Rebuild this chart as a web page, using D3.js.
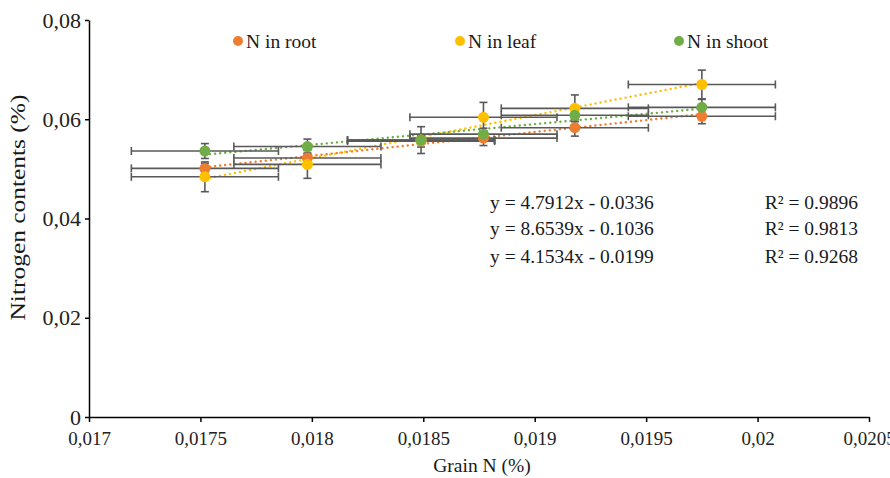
<!DOCTYPE html>
<html>
  <head>
    <meta charset="utf-8">
    <title>Grain N vs Nitrogen contents</title>
    <script src="https://d3js.org/d3.v7.min.js"></script>
    <style>
      body { margin: 0; background: #fff; }
      text { font-family: "Liberation Serif", "Times New Roman", serif; fill: #1a1a1a; }
    </style>
  </head>
  <body>
    <script>
        // data
        var grainN   = [0.01752, 0.01798, 0.01849, 0.01877, 0.01918, 0.01975];
        var grainErr = [0.00033, 0.00033, 0.00033, 0.00033, 0.00033, 0.00033];

        var rootN    = [0.0501, 0.0522, 0.0556, 0.0562, 0.0583, 0.0606];
        var rootErr  = [0.0010, 0.0010, 0.0012, 0.0015, 0.0017, 0.0015];
        var leafN    = [0.0484, 0.0509, 0.0558, 0.0604, 0.0622, 0.0670];
        var leafErr  = [0.0030, 0.0028, 0.0027, 0.0030, 0.0027, 0.0029];
        var shootN   = [0.0536, 0.0545, 0.0558, 0.0570, 0.0608, 0.0624];
        var shootErr = [0.0015, 0.0015, 0.0008, 0.0012, 0.0012, 0.0016];

        var seriesNames = ["N in root", "N in leaf", "N in shoot"];
        var slopes      = [4.7912, 8.6539, 4.1534];
        var intercepts  = [-0.0336, -0.1036, -0.0199];
        var eqLabels    = ["y = 4.7912x - 0.0336", "y = 8.6539x - 0.1036", "y = 4.1534x - 0.0199"];
        var r2Labels    = ["R² = 0.9896", "R² = 0.9813", "R² = 0.9268"];

        var xTicks = [0.017, 0.0175, 0.018, 0.0185, 0.019, 0.0195, 0.02, 0.0205];
        var yTicks = [0, 0.02, 0.04, 0.06, 0.08];

        var colors = ["#ED7D31", "#FFC000", "#70AD47"];
        var errColor = "#595959";

        var margin = {top: 20, right: 21, bottom: 61, left: 89};
        var width = 890 - margin.left - margin.right;
        var height = 478 - margin.top - margin.bottom;

        var svg = d3.select("body").append("svg")
            .attr("width", 890)
            .attr("height", 478)
            .append("g")
            .attr("transform", "translate(" + margin.left + "," + margin.top + ")");

        var x = d3.scaleLinear().domain([0.017, 0.0205]).range([0, width]);
        var y = d3.scaleLinear().domain([0, 0.08]).range([height, 0]);

        var comma = function(d) { return String(d).replace(".", ","); };

        // axes
        var xAxis = svg.append("g")
            .attr("transform", "translate(0," + height + ")")
            .call(d3.axisBottom(x).tickValues(xTicks).tickSize(5).tickSizeOuter(0).tickFormat(comma));
        xAxis.selectAll("text").attr("dy", "1.05em").style("font-size", "19px");

        var yAxis = svg.append("g")
            .call(d3.axisLeft(y).tickValues(yTicks).tickSize(4).tickSizeOuter(0).tickFormat(comma));
        yAxis.selectAll("text").attr("dx", "-0.05em").style("font-size", "22px");

        svg.selectAll(".domain, .tick line").attr("stroke", "#000").attr("stroke-width", 1.5);
        svg.selectAll(".tick text").style("fill", "#222").style("font-family", "Liberation Serif");

        // series table
        var yVals = [rootN, leafN, shootN];
        var yErrs = [rootErr, leafErr, shootErr];
        var series = seriesNames.map(function(name, i) {
            return {
                name: name, color: colors[i], slope: slopes[i], intercept: intercepts[i],
                points: grainN.map(function(g, j) {
                    return {x: g, xe: grainErr[j], y: yVals[i][j], ye: yErrs[i][j]};
                })
            };
        });

        // trendlines (dotted)
        var xMin = d3.min(grainN), xMax = d3.max(grainN);
        svg.append("g").selectAll("line")
            .data(series)
            .enter()
            .append("line")
            .attr("x1", x(xMin))
            .attr("x2", x(xMax))
            .attr("y1", function(s) { return y(s.slope * xMin + s.intercept); })
            .attr("y2", function(s) { return y(s.slope * xMax + s.intercept); })
            .attr("stroke", function(s) { return s.color; })
            .attr("stroke-width", 2.4)
            .attr("stroke-linecap", "round")
            .attr("stroke-dasharray", "0.1,5");

        // error bars
        var capH = 4, capV = 4;
        series.forEach(function(s) {
            var g = svg.append("g")
                .attr("stroke", errColor)
                .attr("stroke-width", 1.6)
                .attr("fill", "none");
            s.points.forEach(function(p) {
                var cx = x(p.x), cy = y(p.y);
                var xl = x(p.x - p.xe), xr = x(p.x + p.xe);
                var yt = y(p.y + p.ye), yb = y(p.y - p.ye);
                g.append("line").attr("x1", xl).attr("x2", xr).attr("y1", cy).attr("y2", cy);
                g.append("line").attr("x1", xl).attr("x2", xl).attr("y1", cy - capV).attr("y2", cy + capV);
                g.append("line").attr("x1", xr).attr("x2", xr).attr("y1", cy - capV).attr("y2", cy + capV);
                g.append("line").attr("x1", cx).attr("x2", cx).attr("y1", yt).attr("y2", yb);
                g.append("line").attr("x1", cx - capH).attr("x2", cx + capH).attr("y1", yt).attr("y2", yt);
                g.append("line").attr("x1", cx - capH).attr("x2", cx + capH).attr("y1", yb).attr("y2", yb);
            });
        });

        // markers
        series.forEach(function(s) {
            svg.append("g").selectAll("circle")
                .data(s.points)
                .enter()
                .append("circle")
                .attr("cx", function(d) { return x(d.x); })
                .attr("cy", function(d) { return y(d.y); })
                .attr("r", 5.5)
                .style("fill", s.color);
        });

        // legend
        var legendX = [149, 371, 590];
        var legend = svg.append("g").attr("transform", "translate(0,21)");
        series.forEach(function(s, i) {
            legend.append("circle").attr("cx", legendX[i]).attr("cy", 0).attr("r", 5).style("fill", s.color);
            legend.append("text").attr("x", legendX[i] + 8).attr("y", 6.5)
                .style("font-size", "19.5px").text(s.name);
        });

        // equations
        var eqY = [189, 215, 243];
        eqLabels.forEach(function(t, i) {
            svg.append("text").attr("x", 401).attr("y", eqY[i]).style("font-size", "19.5px").text(t);
            svg.append("text").attr("x", 769).attr("y", eqY[i]).attr("text-anchor", "end")
                .style("font-size", "19.5px").text(r2Labels[i]);
        });

        // axis titles
        svg.append("text")
            .attr("text-anchor", "middle")
            .attr("x", width / 2 + 3)
            .attr("y", height + 55)
            .style("font-size", "19.5px")
            .text("Grain N (%)");

        svg.append("text")
            .attr("text-anchor", "middle")
            .attr("transform", "translate(" + (-64) + "," + (height / 2 - 11) + ") rotate(-90)")
            .attr("textLength", 226)
            .attr("lengthAdjust", "spacingAndGlyphs")
            .style("font-size", "20px")
            .text("Nitrogen contents (%)");
    </script>
  </body>
</html>
